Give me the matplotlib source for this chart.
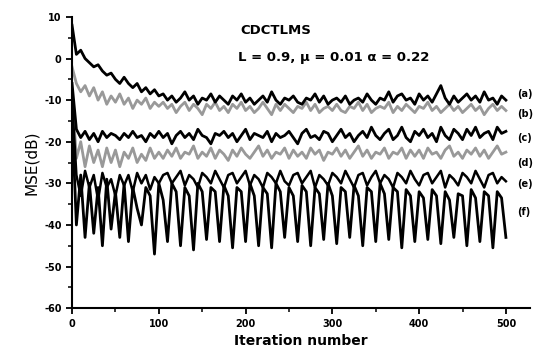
"""
CDCTLMS 学习曲线 (MSE vs iteration)
"""
import matplotlib
matplotlib.use('Agg')
import matplotlib.pyplot as plt
import numpy as np

# 迭代次数 (每 5 次取一个点)
iters = np.arange(0, 501, 5)

mse_a = [8, 1, 2, 0, -1, -2, -1.5, -3, -4, -3.5, -5, -6, -4.5, -6, -7, -6, -8, -7, -8.5, -7.5, -9,
         -8.5, -10, -9, -10.5, -9.5, -8, -10, -9, -11, -9.5,
         -10, -8.5, -10.5, -9, -10, -11, -9, -10, -8.5, -10.5,
         -9.5, -11, -10, -9, -10.5, -8, -10, -11, -9.5, -10,
         -9, -10.5, -11, -9.5, -10, -8.5, -10.5, -9, -11, -10,
         -9.5, -10.5, -9, -11, -10, -9.5, -10.5, -8.5, -10, -11,
         -9.5, -10, -8, -10.5, -9, -8.5, -10, -9.5, -11, -8.5,
         -10, -9, -10.5, -8.5, -6.5, -9.5, -11, -9, -10.5, -9.5,
         -8.5, -10, -9, -10.5, -8, -10, -9.5, -11, -9, -10]

mse_b = [-2, -6, -8, -6.5, -9, -7, -10, -8, -11, -9, -10.5, -8.5, -11, -9.5, -12, -10, -11, -9.5, -12, -10.5, -11.5,
         -10.5, -12, -11, -13, -11.5, -10.5, -12.5, -11, -12, -13.5,
         -11, -12, -10.5, -12.5, -11.5, -13, -11, -12, -10.5, -12.5,
         -11.5, -13, -12, -10.5, -12, -13.5, -11, -12.5, -11, -12,
         -13, -11.5, -12, -10.5, -12.5, -11, -13, -12, -11.5, -12.5,
         -11, -12.5, -13, -11.5, -12, -10.5, -12.5, -11, -13, -12,
         -11.5, -12, -10.5, -13, -11.5, -12.5, -11, -12, -13, -11.5,
         -12, -10.5, -12.5, -11.5, -13, -12, -11, -12.5, -11.5, -13,
         -12, -11, -12.5, -11.5, -13.5, -12, -11, -12.5, -11.5, -12.5]

mse_c = [-6, -17, -19, -17.5, -19.5, -18, -20, -17.5, -19, -18, -18.5, -19.5, -18, -19, -17.5, -19, -18.5, -20, -18, -19, -17.5,
         -19, -18, -20.5, -18.5, -17.5, -19, -18, -19.5, -17, -18.5,
         -19, -20.5, -18, -18.5, -17.5, -19, -18, -20, -18.5, -17,
         -19.5, -18, -18.5, -19, -17.5, -20, -18, -19, -18.5, -17.5,
         -19, -20.5, -18, -17, -19, -18.5, -19.5, -17.5, -18, -20,
         -18.5, -17, -19, -18, -20, -18.5, -17.5, -19, -16.5, -18.5,
         -19.5, -18, -17, -19.5, -18.5, -16.5, -19, -20, -17.5, -18.5,
         -17, -19, -18, -20, -16.5, -18.5, -19.5, -17, -18, -19.5,
         -17, -18.5, -16.5, -19, -18, -17.5, -19.5, -16.5, -18, -17.5]

mse_d = [-8, -24, -20, -26, -21, -25, -22, -26, -21.5, -25, -22, -26, -22.5, -24, -21.5, -25, -23, -24.5, -21.5, -24, -22.5,
         -24, -22, -23.5, -21.5, -24, -22.5, -23, -21, -24, -22.5,
         -23.5, -21.5, -24, -22, -23, -24.5, -22, -23.5, -21.5, -23,
         -24, -22.5, -21, -23.5, -22, -24, -22.5, -23, -21.5, -24,
         -22, -23.5, -22.5, -24, -21.5, -23, -22, -24.5, -22.5, -23,
         -21.5, -23.5, -22, -24, -22.5, -21, -23.5, -22, -24, -22.5,
         -23, -21.5, -24, -22.5, -23, -21.5, -24, -22, -23.5, -22,
         -24, -21.5, -23, -22.5, -24, -22, -21, -23.5, -22.5, -24,
         -22, -23, -21.5, -23.5, -22, -24, -22.5, -21, -23, -22.5]

mse_e = [-10, -28, -33, -27, -31, -28, -34, -27.5, -31, -29, -33, -28, -30.5, -28, -32, -27.5, -30, -28, -31.5, -28.5, -30,
         -28, -27.5, -30, -28.5, -27, -30.5, -28, -29, -31, -27.5,
         -28.5, -30, -27, -29, -31, -28, -27.5, -30, -28.5, -27,
         -30.5, -28, -29, -31, -27.5, -28.5, -30, -27, -29.5, -30.5,
         -28, -27.5, -30, -28.5, -27, -31, -28, -29, -30.5, -27.5,
         -28.5, -30, -27, -29, -31, -28, -27.5, -30.5, -28.5, -27,
         -30, -28, -29, -31, -27.5, -28.5, -30, -27, -29, -30.5,
         -28, -27.5, -30, -28.5, -27, -31, -28, -29, -30.5, -27.5,
         -28.5, -30, -27, -29, -31, -28, -27.5, -30, -28.5, -29.5]

mse_f = [-14, -40, -28, -43, -30, -42, -31, -45, -29, -41, -32, -43, -30, -44, -31, -36, -40, -31, -33, -47, -30,
         -34, -44,
         -30, -32, -45, -31, -33, -46, -30, -32, -43.5, -31, -32, -44,
         -30.5, -33, -45.5, -31, -32, -44, -30, -33, -45, -31, -32.5, -45.5,
         -30, -32, -43, -31, -33, -44, -30.5, -32, -45, -31, -32.5, -43.5,
         -30, -33, -44.5, -31, -32, -43, -30.5, -33, -45, -31, -32, -44,
         -30, -32.5, -43.5, -31, -32, -45.5, -31.5, -33, -44, -32, -33.5, -43.5,
         -31.5, -33, -44.5, -32, -34, -43, -32.5, -33, -45, -31.5, -33.5, -44,
         -32, -33, -45.5, -32, -33.5, -43]

curve_labels = ['(a)', '(b)', '(c)', '(d)', '(e)', '(f)']
label_y = [-8.6, -13.3, -19, -25, -30.2, -37]

plt.rcParams['font.family'] = ['DejaVu Sans']
plt.rcParams['axes.unicode_minus'] = False
fig = plt.figure(figsize=(5.5, 3.6), dpi=100)
ax = fig.add_axes([0.131, 0.144, 0.833, 0.809])

gray = '#999999'
ax.plot(iters, mse_b, color=gray, lw=2.0)
ax.plot(iters, mse_d, color=gray, lw=2.0)
ax.plot(iters, mse_a, color='black', lw=2.0)
ax.plot(iters, mse_c, color='black', lw=2.0)
ax.plot(iters, mse_e, color='black', lw=1.8)
ax.plot(iters, mse_f, color='black', lw=2.0)

for lab, yy in zip(curve_labels, label_y):
    ax.text(513, yy, lab, fontsize=7, fontweight='bold', va='center', ha='left')

ax.text(0.367, 0.955, 'CDCTLMS', transform=ax.transAxes, fontsize=9.5,
        fontweight='bold', va='center')
ax.text(0.363, 0.862, 'L = 0.9, μ = 0.01 α = 0.22', transform=ax.transAxes,
        fontsize=9.5, fontweight='bold', va='center')

ax.set_xlim(0, 528)
ax.set_ylim(-60, 10)
ax.set_xticks([0, 100, 200, 300, 400, 500])
ax.set_xticks([50, 150, 250, 350, 450], minor=True)
ax.set_yticks(np.arange(-60, 11, 10))
ax.set_yticks(np.arange(-55, 10, 10), minor=True)
ax.tick_params(direction='out', length=4, width=1.3, labelsize=7)
ax.tick_params(which='minor', direction='out', length=3, width=1.1)
for t in ax.get_xticklabels() + ax.get_yticklabels():
    t.set_fontweight('bold')

ax.spines['top'].set_visible(False)
ax.spines['right'].set_visible(False)
ax.spines['left'].set_linewidth(1.5)
ax.spines['bottom'].set_linewidth(1.5)

ax.set_ylabel('MSE(dB)', fontsize=11)
ax.set_xlabel('Iteration number', fontsize=10, fontweight='bold')

fig.savefig('out.png', dpi=100)
plt.close(fig)
